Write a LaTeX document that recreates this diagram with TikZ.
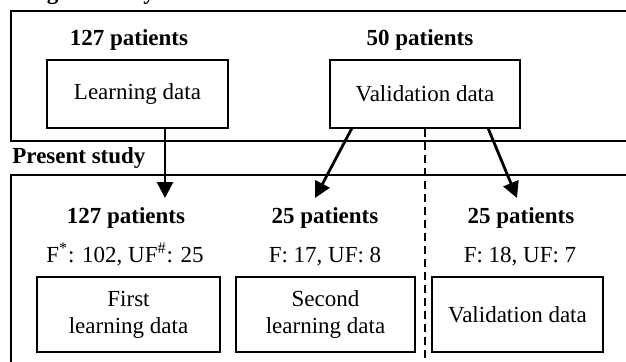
\documentclass[tikz,border=0pt]{standalone}
\usepackage{fontspec}
\setmainfont{Liberation Serif}
\usetikzlibrary{arrows.meta}

\tikzset{
    databox/.style={draw, line width=1pt, align=center, inner sep=0pt, font=\fontsize{11.5}{13.5}\selectfont},
    title/.style={anchor=base, inner sep=0pt, font=\fontsize{11.5}{13.5}\selectfont\bfseries},
    count/.style={anchor=base, inner sep=0pt, font=\fontsize{11.5}{13.5}\selectfont},
    frame/.style={line width=0.75pt},
    arr/.style={line width=1.4pt, -{Triangle[width=8pt,length=8pt]}}
}

\begin{document}
\begin{tikzpicture}[x=0.5pt, y=-0.5pt]
            \path[use as bounding box] (0,0) rectangle (626,361);
            \draw[frame] (640,11) -- (11,11) -- (11,141) -- (640,141);
            \draw[frame] (640,175) -- (11,175) -- (11,375);
            \node[title, anchor=base west] (orig) at (12,-1) {Original study};
            \node[title, anchor=base west] (present) at (12,163) {Present study};

            \node[title] (n127) at (129,45) {127 patients};
            \node[title] (n50) at (420,45) {50 patients};
            \node[databox, minimum width=181*0.5pt, minimum height=68*0.5pt] (learn) at (137.5,94) {Learning data};
            \node[databox, minimum width=190*0.5pt, minimum height=68*0.5pt] (valid) at (425,94) {Validation data};

            \node[title] (m127) at (126,223) {127 patients};
            \node[title] (m25a) at (325,223) {25 patients};
            \node[title] (m25b) at (521,223) {25 patients};
            \node[count] (c1) at (125,262) {F\textsuperscript{*}: 102, UF\textsuperscript{\#}: 25};
            \node[count] (c2) at (325,262) {F: 17, UF: 8};
            \node[count] (c3) at (520,262) {F: 18, UF: 7};
            \node[databox, minimum width=183*0.5pt, minimum height=75*0.5pt] (first) at (128.5,314.5) {First\\learning data};
            \node[databox, minimum width=179*0.5pt, minimum height=75*0.5pt] (second) at (325.5,314.5) {Second\\learning data};
            \node[databox, minimum width=171*0.5pt, minimum height=75*0.5pt] (third) at (517.5,314.5) {Validation data};

            \coordinate (t1) at (165,198);
            \coordinate (s2) at (352,128);
            \coordinate (t2) at (315,198);
            \coordinate (s3) at (488,128);
            \coordinate (t3) at (517,198);
            \coordinate (d) at (425,365);
            \draw[arr] (learn.south -| t1) -- (t1);
            \draw[arr] (s2) -- (t2);
            \draw[arr] (s3) -- (t3);
            \draw[line width=1pt, dash pattern=on 4pt off 2.5pt] (valid.south) -- (d);
        \end{tikzpicture}
\end{document}
